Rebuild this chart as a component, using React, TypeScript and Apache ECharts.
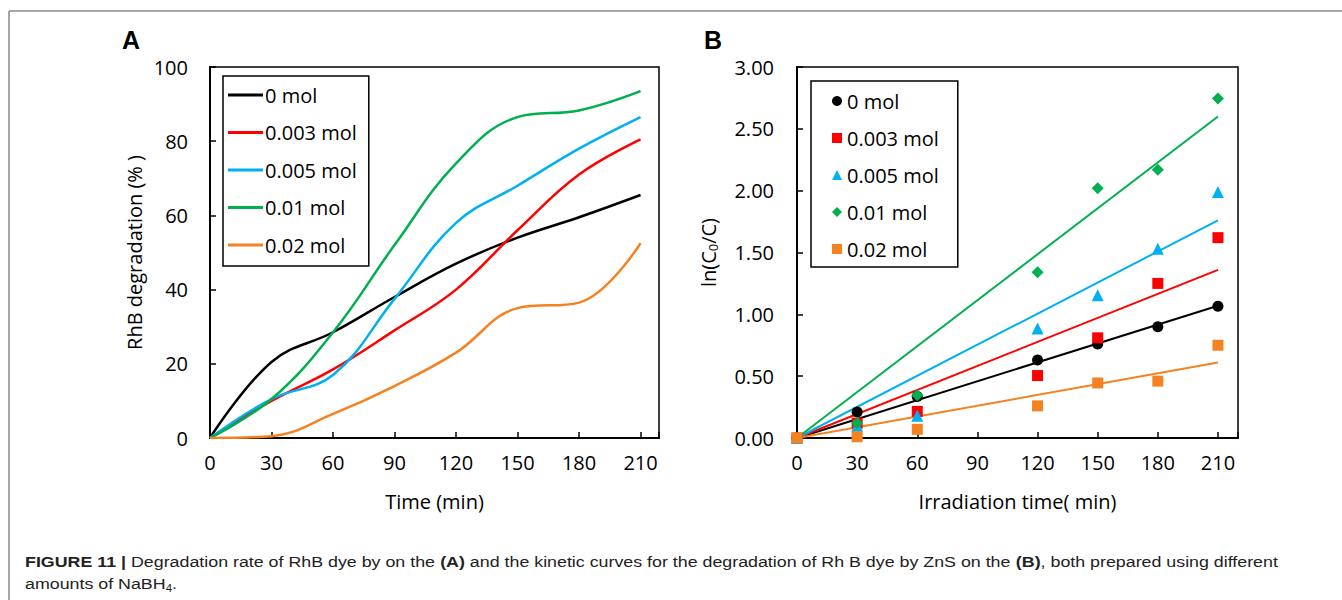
import React, { useEffect, useRef } from 'react';
import * as echarts from 'echarts';

// ---------- data ----------
const seriesNames = ['0 mol', '0.003 mol', '0.005 mol', '0.01 mol', '0.02 mol'];
const colors = ['#000000', '#ff0000', '#00b0f0', '#00b050', '#f58220'];

// Panel A: RhB degradation (%) vs time (min)
const timesA = [0, 30, 60, 90, 120, 150, 180, 210];
const degr0 = [0, 20.5, 28.5, 38, 47, 54, 59.5, 65.5];
const degr003 = [0, 10, 18.5, 29, 40, 56, 71, 80.5];
const degr005 = [0, 10.5, 17, 37.5, 58, 68, 78, 86.5];
const degr01 = [0, 10.5, 28.5, 52, 74, 86.5, 88.3, 93.5];
const degr02 = [0, 0.5, 6.5, 14, 23, 35, 36.5, 52.5];
const degrAll = [degr0, degr003, degr005, degr01, degr02];

// Panel B: ln(C0/C) vs irradiation time (min)
const timesB = [0, 30, 60, 120, 150, 180, 210];
const ln0 = [0, 0.21, 0.335, 0.63, 0.76, 0.9, 1.065];
const ln003 = [0, 0.12, 0.215, 0.505, 0.81, 1.25, 1.62];
const ln005 = [0, 0.1, 0.18, 0.885, 1.155, 1.53, 1.99];
const ln01 = [0, 0.12, 0.345, 1.34, 2.02, 2.17, 2.745];
const ln02 = [0, 0.01, 0.07, 0.26, 0.445, 0.46, 0.75];
const lnAll = [ln0, ln003, ln005, ln01, ln02];
const markers = ['circle', 'rect', 'triangle', 'diamond', 'rect'];
const markerSizes = [11, 11, 12, 12, 11];

// linear fits: value at start and end of the fitted range
const fitTimes = [0, 210];
const fitStart = [0, 0, 0, 0, 0];
const fitEnd = [1.07, 1.36, 1.76, 2.6, 0.61];

const FONT = '"Open Sans", sans-serif';
const CAP_FONT = '"Liberation Sans", Arial, sans-serif';

export default function App() {
  const ref = useRef<HTMLDivElement>(null);

  useEffect(() => {
    if (!ref.current) return;
    const chart = echarts.init(ref.current, null, { renderer: 'svg' });

    const axisCommon = {
      axisLine: { show: true, lineStyle: { color: '#000', width: 2 } },
      axisTick: { show: true, inside: true, length: 6, lineStyle: { color: '#000', width: 1.5 } },
      splitLine: { show: false },
    };
    const xLabel = {
      color: '#000',
      fontFamily: FONT,
      fontSize: 20,
      margin: 14,
      formatter: (v: number) => (v % 30 === 0 ? String(v) : ''),
    };

    const seriesA = seriesNames.map((name, i) => ({
      type: 'line',
      name,
      xAxisIndex: 0,
      yAxisIndex: 0,
      smooth: 0.4,
      symbol: 'none',
      showSymbol: false,
      lineStyle: { color: colors[i], width: 2.5 },
      itemStyle: { color: colors[i] },
      data: timesA.map((t, k) => [t, degrAll[i][k]]),
      z: 2,
    }));

    const fitsB = seriesNames.map((name, i) => ({
      type: 'line',
      name: 'fit ' + name,
      xAxisIndex: 1,
      yAxisIndex: 1,
      symbol: 'none',
      lineStyle: { color: colors[i], width: 2 },
      itemStyle: { color: colors[i] },
      data: [
        [fitTimes[0], fitStart[i]],
        [fitTimes[1], fitEnd[i]],
      ],
      z: 2,
    }));

    const scatterB = seriesNames.map((name, i) => ({
      type: 'scatter',
      name: 'B:' + name,
      xAxisIndex: 1,
      yAxisIndex: 1,
      symbol: markers[i],
      symbolSize: markerSizes[i],
      itemStyle: { color: colors[i], opacity: 1 },
      data: timesB.map((t, k) => [t, lnAll[i][k]]),
      z: 3,
    }));

    chart.setOption({
      animation: false,
      backgroundColor: '#fff',
      grid: [
        { left: 210, top: 67, width: 449, height: 371, show: true, borderColor: '#000', borderWidth: 1.5, backgroundColor: 'transparent' },
        { left: 797, top: 67, width: 441, height: 371, show: true, borderColor: '#000', borderWidth: 1.5, backgroundColor: 'transparent' },
      ],
      xAxis: [
        {
          type: 'value', gridIndex: 0, min: 0, max: 219, interval: 30,
          ...axisCommon,
          axisLabel: xLabel,
          name: 'Time (min)', nameLocation: 'middle', nameGap: 53,
          nameTextStyle: { color: '#000', fontFamily: FONT, fontSize: 20 },
        },
        {
          type: 'value', gridIndex: 1, min: 0, max: 220, interval: 30,
          ...axisCommon,
          axisLabel: xLabel,
          name: 'Irradiation time( min)', nameLocation: 'middle', nameGap: 53,
          nameTextStyle: { color: '#000', fontFamily: FONT, fontSize: 20 },
        },
      ],
      yAxis: [
        {
          type: 'value', gridIndex: 0, min: 0, max: 100, interval: 20,
          ...axisCommon,
          axisLabel: { color: '#000', fontFamily: FONT, fontSize: 20, margin: 22 },
          name: 'RhB degradation (% )', nameLocation: 'middle', nameGap: 66, nameRotate: 90,
          nameTextStyle: { color: '#000', fontFamily: FONT, fontSize: 20 },
        },
        {
          type: 'value', gridIndex: 1, min: 0, max: 3, interval: 0.5,
          ...axisCommon,
          axisLabel: {
            color: '#000', fontFamily: FONT, fontSize: 20, margin: 23,
            formatter: (v: number) => v.toFixed(2),
          },
          name: 'ln(C{sub|0}/C)', nameLocation: 'middle', nameGap: 78, nameRotate: 90,
          nameTextStyle: {
            color: '#000', fontFamily: FONT, fontSize: 20,
            rich: { sub: { fontFamily: FONT, fontSize: 13, color: '#000', verticalAlign: 'bottom', padding: [8, 0, 0, 0] } },
          },
        },
      ],
      legend: [
        {
          orient: 'vertical', left: 223, top: 76,
          data: seriesNames.map((n, i) => ({ name: n, icon: 'rect', itemStyle: { color: colors[i] } })),
          itemWidth: 35, itemHeight: 3, itemGap: 15.5,
          padding: [8, 12, 10, 5],
          borderColor: '#000', borderWidth: 1.5, backgroundColor: '#fff',
          textStyle: { color: '#000', fontFamily: FONT, fontSize: 20, lineHeight: 22, padding: [0, 0, 0, -3] },
          selectedMode: false,
        },
        {
          orient: 'vertical', left: 811, top: 81,
          data: seriesNames.map((n) => 'B:' + n),
          formatter: (n: string) => n.slice(2),
          itemWidth: 10, itemHeight: 10, itemGap: 15,
          padding: [9, 19, 7, 21],
          borderColor: '#000', borderWidth: 1.5, backgroundColor: '#fff',
          textStyle: { color: '#000', fontFamily: FONT, fontSize: 20, lineHeight: 22 },
          selectedMode: false,
        },
      ],
      series: [...seriesA, ...fitsB, ...scatterB],
      graphic: [
        { type: 'line', shape: { x1: 9, y1: 11, x2: 1342, y2: 11 }, style: { stroke: '#8a8a8a', lineWidth: 1.5 }, silent: true },
        { type: 'line', shape: { x1: 9, y1: 11, x2: 9, y2: 600 }, style: { stroke: '#8a8a8a', lineWidth: 1.5 }, silent: true },
        {
          type: 'text', x: 131, y: 40,
          style: { text: 'A', font: `bold 25px ${CAP_FONT}`, fill: '#000', align: 'center', verticalAlign: 'middle' },
        },
        {
          type: 'text', x: 713, y: 40,
          style: { text: 'B', font: `bold 25px ${CAP_FONT}`, fill: '#000', align: 'center', verticalAlign: 'middle' },
        },
        {
          type: 'text', x: 25, y: 562, scaleX: 1.15,
          style: {
            text: '{b|FIGURE 11 |} Degradation rate of RhB dye by on the {b|(A)} and the kinetic curves for the degradation of Rh B dye by ZnS on the {b|(B)}, both prepared using different',
            fontFamily: CAP_FONT, fontSize: 15.5, fill: '#222', verticalAlign: 'middle',
            rich: { b: { fontFamily: CAP_FONT, fontSize: 15.5, fontWeight: 'bold', fill: '#222' } },
          },
        },
        {
          type: 'text', x: 25, y: 584, scaleX: 1.15,
          style: {
            text: 'amounts of NaBH{sub|4}.',
            fontFamily: CAP_FONT, fontSize: 15.5, fill: '#222', verticalAlign: 'middle',
            rich: { sub: { fontFamily: CAP_FONT, fontSize: 10, fill: '#222', verticalAlign: 'bottom', padding: [8, 0, 0, 0] } },
          },
        },
      ],
    });

    return () => chart.dispose();
  }, []);

  return (
    <div
      ref={ref}
      style={{ position: 'absolute', left: 0, top: 0, width: 1342, height: 600, background: '#fff' }}
    />
  );
}
